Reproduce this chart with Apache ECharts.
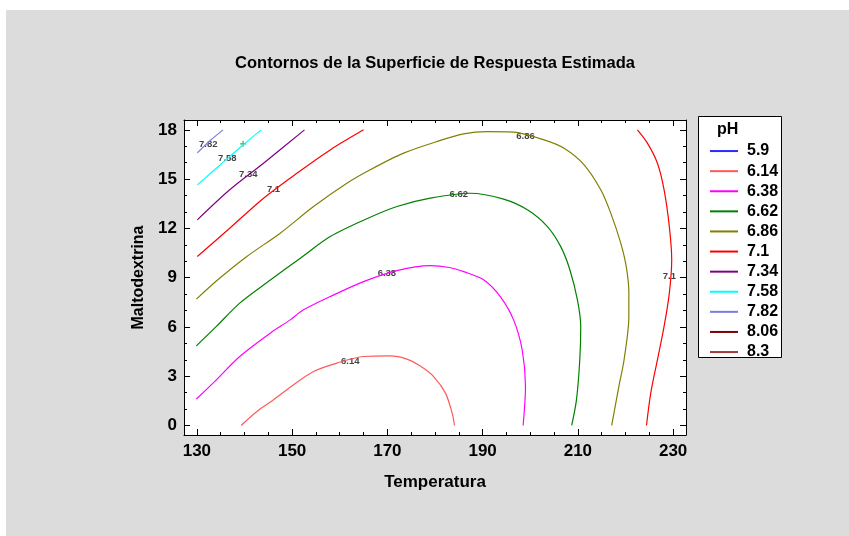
<!DOCTYPE html>
<html>
<head>
<meta charset="utf-8">
<script src="https://cdn.jsdelivr.net/npm/echarts@6/dist/echarts.min.js"></script>
<style>
  html, body { margin: 0; padding: 0; background: #fff; }
  #show { width: 849px; height: 536px; }
</style>
</head>
<body>
<div id="show"></div>
<script>
var myChart = echarts.init(document.getElementById("show"));

// niveles de la leyenda
var levels = ['5.9', '6.14', '6.38', '6.62', '6.86', '7.1', '7.34', '7.58', '7.82', '8.06', '8.3'];
var levelColors = ['#2b2bff', '#ff5a5a', '#ff00ff', '#008000', '#808000', '#ff0000', '#800080', '#00ffff', '#7b7be0', '#800000', '#a03c3c'];

// contornos [Temperatura, Maltodextrina]
var c614 = [[139.3, 0], [142.6, 0.85], [146.1, 1.56], [150.3, 2.48], [154.5, 3.29], [159.4, 3.8], [165, 4.2],
    [170.6, 4.24], [174.1, 4.04], [177, 3.6], [179.7, 2.98], [182.2, 1.97], [183.6, 0.75], [184.1, 0]];
var c638 = [[129.9, 1.61], [134.1, 2.78], [139, 4.2], [145.4, 5.62], [149.6, 6.43], [152.4, 7.04], [158, 7.85],
    [165, 8.76], [172, 9.43], [179, 9.73], [183, 9.62], [186, 9.37], [190.2, 8.87], [193.7, 7.85], [196.5, 6.43],
    [198.3, 4.61], [199, 2.37], [198.5, 0]];
var c662 = [[129.9, 4.85], [134.1, 6.03], [139, 7.45], [145.5, 8.87], [151.8, 10.2], [158, 11.5], [165, 12.5],
    [172, 13.33], [179, 13.84], [187.4, 14.14], [194.4, 13.78], [199.4, 13.13], [203.6, 12.11], [206.4, 10.89],
    [208.3, 9.5], [209.9, 7.65], [210.6, 6.03], [210.4, 4.0], [209.7, 1.56], [208.7, 0]];
var c686 = [[129.9, 7.69], [134.4, 8.87], [140.5, 10.29], [147.5, 11.71], [154.5, 13.33], [161.5, 14.75],
    [166.4, 15.57], [173.4, 16.58], [180.4, 17.29], [186, 17.75], [190.9, 17.89], [196.5, 17.86], [202.9, 17.39],
    [207.1, 16.88], [211.3, 15.87], [214.8, 14.35], [216.9, 12.93], [219, 11.1], [220.2, 9.6], [220.7, 8.06],
    [220.7, 6.63], [219.7, 4.0], [218.6, 2.37], [217.1, 0]];
var c710a = [[130.1, 10.29], [136.9, 12.01], [144, 13.84], [151, 15.36], [158, 16.78], [165, 18]];
var c710b = [[222.5, 18], [224.6, 17.19], [226.7, 15.97], [228.1, 14.35], [229.2, 12.11], [229.7, 10.09],
    [229.2, 8.06], [228.1, 6.03], [226.7, 4.0], [225.3, 1.97], [224.4, 0]];
var c734 = [[130.1, 12.52], [136.9, 14.35], [144, 15.97], [152.6, 18]];
var c758 = [[130.1, 14.65], [134.5, 15.77], [139.7, 17.08], [143.5, 18]];
var c782 = [[130.1, 16.6], [132.8, 17.35], [135.5, 18]];

// etiquetas de los contornos
var contourLabels = [
    { name: '7.82', value: [132.4, 17.13] },
    { name: '7.58', value: [136.4, 16.27] },
    { name: '7.34', value: [140.8, 15.3] },
    { name: '7.1', value: [146.1, 14.35] },
    { name: '6.86', value: [199, 17.59] },
    { name: '6.62', value: [185, 14.08] },
    { name: '6.38', value: [169.9, 9.28] },
    { name: '6.14', value: [162.2, 3.9] },
    { name: '7.1', value: [229.2, 9.07] }
];
var optimo = [[139.7, 17.15]];

var xLabels = [130, 150, 170, 190, 210, 230];
var xMinor = [135, 140, 145, 155, 160, 165, 175, 180, 185, 195, 200, 205, 215, 220, 225];
var yLabels = [0, 3, 6, 9, 12, 15, 18];
var yMinor = [1, 2, 4, 5, 7, 8, 10, 11, 13, 14, 16, 17];

var xMin = 127.3, xMax = 232.7, yMin = -0.58, yMax = 18.6;
var font = 'Liberation Sans, Arial, sans-serif';

function xAx(pos, ticks, len, labels, line) {
    return {
        type: 'value', position: pos, min: xMin, max: xMax,
        splitLine: { show: false },
        axisLine: { show: line, onZero: false, lineStyle: { color: '#000', width: 1 } },
        axisTick: { show: true, inside: true, length: len, customValues: ticks, lineStyle: { color: '#000' } },
        axisLabel: labels ? { show: true, customValues: ticks, color: '#000', fontFamily: font, fontSize: 17, fontWeight: 'bold', margin: 8 } : { show: false },
        name: labels ? 'Temperatura' : '', nameLocation: 'middle', nameGap: 39,
        nameTextStyle: { color: '#000', fontFamily: font, fontSize: 17, fontWeight: 'bold' }
    };
}
function yAx(pos, ticks, len, labels, line) {
    return {
        type: 'value', position: pos, min: yMin, max: yMax,
        splitLine: { show: false },
        axisLine: { show: line, onZero: false, lineStyle: { color: '#000', width: 1 } },
        axisTick: { show: true, inside: true, length: len, customValues: ticks, lineStyle: { color: '#000' } },
        axisLabel: labels ? { show: true, customValues: ticks, color: '#000', fontFamily: font, fontSize: 17, fontWeight: 'bold', margin: 7 } : { show: false },
        name: labels ? 'Maltodextrina' : '', nameLocation: 'middle', nameGap: 37, nameRotate: 90,
        nameTextStyle: { color: '#000', fontFamily: font, fontSize: 16, fontWeight: 'bold' }
    };
}

function contour(name, data) {
    return {
        type: 'line', name: name, data: data, showSymbol: false, smooth: 0.3,
        color: levelColors[levels.indexOf(name)],
        lineStyle: { width: 1.2 }, silent: true, animation: false
    };
}

var series = [
    contour('5.9', []),
    contour('6.14', c614),
    contour('6.38', c638),
    contour('6.62', c662),
    contour('6.86', c686),
    contour('7.1', c710a),
    contour('7.1', c710b),
    contour('7.34', c734),
    contour('7.58', c758),
    contour('7.82', c782),
    contour('8.06', []),
    contour('8.3', []),
    {
        type: 'scatter', data: contourLabels, symbolSize: 0, silent: true, animation: false,
        label: {
            show: true, position: 'inside', formatter: '{b}', color: '#111',
            fontFamily: font, fontSize: 9.5, fontWeight: 'bold'
        }
    },
    {
        type: 'scatter', data: optimo, symbol: 'path://M2,0 L3,0 L3,2 L5,2 L5,3 L3,3 L3,5 L2,5 L2,3 L0,3 L0,2 L2,2 Z',
        symbolSize: 6, itemStyle: { color: '#1a9a1a' }, silent: true, animation: false
    }
];

myChart.setOption({
    backgroundColor: '#fff',
    animation: false,
    graphic: [
        { type: 'rect', left: 6, top: 10, shape: { width: 843, height: 526 }, style: { fill: '#dcdcdc' }, z: -10 },
        { type: 'rect', left: 184, top: 120, shape: { width: 502, height: 315 }, style: { fill: '#fff' }, z: -9 },
        { type: 'rect', left: 698, top: 116, shape: { width: 83, height: 241 }, style: { fill: '#fff', stroke: '#000', lineWidth: 1 }, z: -9 },
        { type: 'text', left: 717, top: 122, style: { text: 'pH', fill: '#000', font: 'bold 16px ' + font }, z: 10 }
    ],
    title: {
        text: 'Contornos de la Superficie de Respuesta Estimada',
        left: 430, top: 50, textAlign: 'center',
        textStyle: { color: '#000', fontFamily: font, fontSize: 16.5, fontWeight: 'bold' }
    },
    legend: {
        data: levels, orient: 'vertical', left: 705, top: 136,
        itemWidth: 28, itemHeight: 2, itemGap: 0, icon: 'rect',
        selectedMode: false,
        textStyle: { color: '#000', fontFamily: font, fontSize: 16, fontWeight: 'bold', lineHeight: 20.1, padding: [0, 0, 0, 4] }
    },
    grid: { left: 184, top: 120, right: 163, bottom: 101, containLabel: false },
    xAxis: [
        xAx('bottom', xLabels, 6, true, true),
        xAx('bottom', xMinor, 3, false, false),
        xAx('top', xLabels, 6, false, true),
        xAx('top', xMinor, 3, false, false)
    ],
    yAxis: [
        yAx('left', yLabels, 6, true, true),
        yAx('left', yMinor, 3, false, false),
        yAx('right', yLabels, 6, false, true),
        yAx('right', yMinor, 3, false, false)
    ],
    series: series
});
</script>
</body>
</html>
